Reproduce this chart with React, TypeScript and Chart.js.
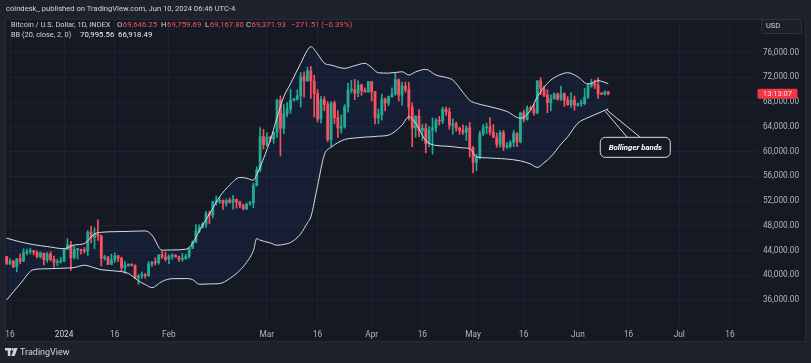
import React, { useEffect, useRef } from "react";
import { Chart, registerables } from "chart.js";

Chart.register(...registerables);

// Day index: 0 = 16 Dec 2023. First candle is 15 Dec 2023.
const FIRST_DAY = -1;

const OPEN = [
  43020, 41940, 42260, 41370, 42660, 42270, 43650, 43870, 43990, 43720, 43010, 43580, 42510, 43440, 42580, 42070, 42140,
  42280, 44180, 44950, 42840, 44150, 44160, 43970, 43930, 46970, 46120, 46650, 46340, 42780, 42840, 41730, 42510, 43150, 42740, 41260, 41620, 41660, 41580, 39570, 39890, 40080, 39940, 41820, 42120, 42030, 43300, 42950,
  42580, 43080, 43190, 42990, 42580, 42660, 43090, 44340, 45300, 47150, 47770, 48290, 49960, 49730, 51830, 51940, 52130, 51660, 52120, 51780, 52270, 51850, 51300, 50750, 51570, 51730, 54480, 57050, 62430,
  61130, 62390, 62030, 63130, 68300, 63780, 66110, 66920, 68300, 68500, 69020, 72120, 71480, 73080, 71400, 69400, 65300, 68390, 67610, 61940, 67840, 65500, 63800, 64090, 67230, 69950, 69990, 69460, 70780, 69890, 69650,
  71330, 69700, 65450, 65970, 68500, 67840, 68900, 69360, 71620, 69140, 70590, 70060, 67190, 63820, 65740, 63420, 63790, 61280, 63510, 63840, 64990, 64940, 66840, 66410, 64280, 64500, 63770, 63460, 63120, 63840,
  60640, 58250, 59120, 62890, 63890, 64030, 63160, 62330, 61190, 63070, 60790, 60820, 61480, 62940, 61580, 66270, 65230, 67050, 66940, 66280, 71450, 70140, 69120, 67930, 68530, 69290, 68510, 69390, 68300, 67580, 68360,
  67490, 67750, 67760, 68800, 70570, 71080, 70760, 69340, 69310, 69646,
];
const HIGH = [
  43090, 42700, 42430, 42750, 43480, 44280, 44240, 44390, 43990, 43940, 43800, 43600, 43680, 43800, 43120, 42600, 42880,
  44190, 45900, 45500, 44750, 44350, 44220, 44480, 47250, 47900, 47700, 48970, 46500, 43250, 43080, 43400, 43580, 43200, 42930, 42200, 41870, 41880, 41680, 40130, 40530, 40280, 42200, 42200, 42800, 43300, 43880, 43740,
  43290, 43480, 43380, 43120, 43500, 43400, 44500, 45600, 48200, 48170, 48570, 50330, 50390, 52000, 52820, 52580, 52190, 52360, 52490, 52950, 52360, 52000, 51530, 51690, 51950, 54900, 57550, 63900, 63600,
  63100, 62430, 63200, 68500, 69000, 67600, 67950, 70100, 68600, 70000, 72800, 72900, 73650, 73780, 72350, 70000, 68900, 68900, 68100, 68100, 68200, 66650, 65950, 67600, 71100, 71500, 71700, 71500, 70900, 70300, 71350,
  71350, 69700, 66900, 69300, 68700, 69000, 70300, 72700, 71750, 71200, 71250, 71200, 67900, 65800, 66800, 64400, 64500, 64100, 65450, 65400, 65700, 67200, 67200, 67050, 65300, 64800, 63950, 64350, 64200, 64700,
  60800, 59600, 63300, 64400, 64600, 65500, 64400, 63000, 63400, 63450, 61500, 61800, 63400, 63100, 66400, 66700, 67400, 67400, 67700, 71500, 71950, 70600, 70000, 69200, 69500, 69500, 70600, 69500, 68900, 69500, 69000,
  67850, 68400, 70200, 71050, 71700, 71600, 71950, 69500, 69850, 69760,
];
const LOW = [
  41700, 41700, 41250, 40550, 41820, 42200, 43300, 43430, 43300, 42800, 42760, 41670, 42110, 42320, 41300, 41550, 41970,
  42190, 44180, 40800, 42640, 42650, 43400, 43600, 43200, 45250, 44300, 45650, 41500, 42450, 41720, 41720, 42060, 42200, 40680, 40280, 41440, 41500, 39450, 38500, 39500, 39520, 39820, 41400, 41640, 41800, 42700, 42300,
  41880, 42600, 42900, 42230, 42260, 42570, 42750, 44340, 45250, 46900, 47620, 47720, 48360, 49260, 51320, 51600, 50640, 51170, 51670, 50680, 50860, 50930, 50550, 50600, 51300, 50900, 54450, 56700, 60400,
  60800, 61600, 61350, 62300, 59300, 62900, 65600, 66200, 68200, 68300, 67200, 68800, 71350, 68600, 65600, 64800, 64600, 66600, 61600, 60800, 64550, 62300, 63000, 63800, 66400, 69500, 68400, 68900, 69100, 69600, 69600,
  68200, 64500, 64500, 65100, 66600, 67450, 68800, 69100, 68200, 67500, 69600, 65100, 60800, 62300, 62400, 61800, 59800, 60800, 59600, 63200, 64300, 64500, 65850, 63600, 62800, 63300, 62800, 62800, 61800, 59100,
  56550, 56900, 58800, 62600, 62900, 62700, 62250, 60700, 60700, 60200, 60500, 60600, 60800, 60800, 61400, 64800, 65100, 66600, 65900, 66100, 69200, 68900, 66300, 66600, 68500, 68300, 68300, 67300, 67500, 67150, 66700,
  67400, 67300, 67600, 68600, 70400, 70200, 68600, 69200, 69150, 69168,
];
const CLOSE = [
  41940, 42260, 41370, 42660, 42270, 43650, 43870, 43990, 43720, 43010, 43580, 42510, 43440, 42580, 42070, 42140, 42280,
  44180, 44950, 42840, 44150, 44160, 43970, 43930, 46970, 46120, 46650, 46340, 42780, 42840, 41730, 42510, 43150, 42740, 41260, 41620, 41660, 41580, 39570, 39890, 40080, 39940, 41820, 42120, 42030, 43300, 42950, 42580,
  43080, 43190, 42990, 42580, 42660, 43090, 44340, 45300, 47150, 47770, 48290, 49960, 49730, 51830, 51940, 52130, 51660, 52120, 51780, 52270, 51850, 51300, 50750, 51570, 51730, 54480, 57050, 62430, 61130,
  62390, 62030, 63130, 68300, 63780, 66110, 66920, 68300, 68500, 69020, 72120, 71480, 73080, 71400, 69400, 65300, 68390, 67610, 61940, 67840, 65500, 63800, 64090, 67230, 69950, 69990, 69460, 70780, 69890, 69650, 71330,
  69700, 65450, 65970, 68500, 67840, 68900, 69360, 71620, 69140, 70590, 70060, 67190, 63820, 65740, 63420, 63790, 61280, 63510, 63840, 64990, 64940, 66840, 66410, 64280, 64500, 63770, 63460, 63120, 63840, 60640,
  58250, 59120, 62890, 63890, 64030, 63160, 62330, 61190, 63070, 60790, 60820, 61480, 62940, 61580, 66270, 65230, 67050, 66940, 66280, 71450, 70140, 69120, 67930, 68530, 69290, 68510, 69390, 68300, 67580, 68360, 67490,
  67750, 67760, 68800, 70570, 71080, 70760, 69340, 69310, 69650, 69372,
];

// Bollinger band (20, 2) values
const BB_DAYS = [
  -1, 3, 7, 11, 16, 19, 22, 25, 27, 31, 35, 38, 40, 42, 45, 48, 52, 54, 56, 59, 62, 65, 68, 70, 72,
  73, 74, 77, 79, 81, 83, 86, 88, 89, 91, 93, 95, 99, 102, 105, 107, 109, 112, 116, 118, 120, 123, 126, 129, 131,
  134, 136, 138, 141, 144, 147, 151, 154, 156, 158, 160, 163, 165, 168, 171, 174, 177,
];
const BB_UPPER = [
  46000, 45400, 44950, 44650, 44300, 44900, 45130, 46700, 46950, 47050, 47100, 47150, 47180, 46500, 44050, 44100, 44210, 45130, 47200, 49900, 52680, 54600, 55820, 55700, 55380,
  56300, 57500, 61860, 65500, 68880, 71000, 74280, 76400, 76970, 75800, 74300, 74000, 73470, 73900, 74280, 73600, 72760, 72700, 72920, 72390, 72900, 73310, 72390, 72000, 71580,
  69600, 68300, 67800, 67400, 67000, 66500, 65400, 66700, 68880, 70400, 71580, 72500, 72760, 72100, 70930, 71470, 70996,
];
const BB_LOWER = [
  36000, 38600, 40920, 41050, 41150, 41250, 41620, 41200, 40900, 40700, 40300, 39100, 38500, 38000, 39000, 39450, 39470, 39300, 38540, 38600, 38650, 39470, 40800, 42100, 44000,
  45940, 45670, 45230, 44860, 45000, 45300, 46700, 48500, 49440, 54500, 59500, 60700, 61950, 62200, 62350, 62400, 62500, 62670, 64290, 65640, 64600, 61800, 61000, 60890, 60800,
  60600, 60500, 59160, 59000, 58900, 58800, 58500, 58000, 57440, 58200, 59160, 61200, 62400, 64600, 65500, 66200, 66918,
];

const TIME_TICK_DAYS = [0, 16, 31, 47, 76, 91, 107, 122, 137, 152, 168, 183, 198, 213];
const TIME_TICK_LABELS = ["16", "2024", "16", "Feb", "Mar", "16", "Apr", "16", "May", "16", "Jun", "16", "Jul", "16"];
const PRICE_TICKS = [36000, 40000, 44000, 48000, 52000, 56000, 60000, 64000, 68000, 72000, 76000];

const X_MIN = -1.48;
const X_MAX = 221.0;
const Y_MIN = 31795;
const Y_MAX = 81451;

const UP = "#22ab94";
const DOWN = "#f7525f";
const GRID = "#1e2230";
const TEXT = "#b2b5be";
const LIGHT = "#d1d4dc";
const FONT = "Roboto, 'Noto Sans', sans-serif";

function roundRect(ctx: CanvasRenderingContext2D, x: number, y: number, w: number, h: number, r: number) {
  ctx.beginPath();
  ctx.moveTo(x + r, y);
  ctx.lineTo(x + w - r, y);
  ctx.arcTo(x + w, y, x + w, y + r, r);
  ctx.lineTo(x + w, y + h - r);
  ctx.arcTo(x + w, y + h, x + w - r, y + h, r);
  ctx.lineTo(x + r, y + h);
  ctx.arcTo(x, y + h, x, y + h - r, r);
  ctx.lineTo(x, y + r);
  ctx.arcTo(x, y, x + r, y, r);
  ctx.closePath();
}

const decor = {
  id: "decor",
  beforeDraw(chart: any) {
    const ctx: CanvasRenderingContext2D = chart.ctx;
    ctx.save();
    ctx.fillStyle = "#1e222d";
    ctx.fillRect(0, 0, chart.width, chart.height);
    ctx.fillStyle = "#151924";
    ctx.fillRect(5, 19, 801, 323);
    ctx.strokeStyle = "#262a36";
    ctx.lineWidth = 1;
    ctx.strokeRect(5.5, 19.5, 800, 322);
    ctx.restore();
  },
  afterDraw(chart: any) {
    const ctx: CanvasRenderingContext2D = chart.ctx;
    const xs = chart.scales.x;
    const ys = chart.scales.y;
    const area = chart.chartArea;
    ctx.save();
    ctx.textBaseline = "middle";
    ctx.textAlign = "left";

    // title line
    ctx.font = `7.6px ${FONT}`;
    ctx.fillStyle = LIGHT;
    ctx.fillText("coindesk_ published on TradingView.com, Jun 10, 2024 06:46 UTC-4", 6, 9.5);

    // OHLC legend
    const put = (t: string, x: number, y: number, c: string) => {
      ctx.fillStyle = c;
      ctx.fillText(t, x, y);
      return x + ctx.measureText(t).width;
    };
    ctx.font = `7.4px ${FONT}`;
    put("Bitcoin / U.S. Dollar, 1D, INDEX", 11, 25.5, LIGHT);
    ctx.font = `7.8px ${FONT}`;
    let px = put("O", 117, 25.5, LIGHT);
    put("69,646.25", px + 0.5, 25.5, DOWN);
    px = put("H", 161, 25.5, LIGHT);
    put("69,759.69", px + 0.5, 25.5, DOWN);
    px = put("L", 205, 25.5, LIGHT);
    put("69,167.80", px + 0.5, 25.5, DOWN);
    px = put("C", 246, 25.5, LIGHT);
    put("69,371.93", px + 0.5, 25.5, DOWN);
    put("−271.51 (−0.39%)", 291, 25.5, DOWN);

    ctx.font = `7.4px ${FONT}`;
    put("BB (20, close, 2, 0)", 11, 35.5, LIGHT);
    ctx.font = `7.8px ${FONT}`;
    put("70,995.56", 80, 35.5, "#eceef2");
    put("66,918.49", 118, 35.5, "#eceef2");

    // USD box
    ctx.fillStyle = "#1b1f2a";
    ctx.strokeStyle = "#2e3240";
    roundRect(ctx, 761.5, 19.5, 40, 14, 2);
    ctx.fill();
    ctx.stroke();
    ctx.font = `7.5px ${FONT}`;
    ctx.fillStyle = LIGHT;
    ctx.fillText("USD", 766, 26.5);

    // last price label
    const py = ys.getPixelForValue(CLOSE[CLOSE.length - 1]);
    ctx.fillStyle = "#f23645";
    roundRect(ctx, area.right + 0.5, py - 5, 40, 10, 1.5);
    ctx.fill();
    ctx.fillStyle = "#ffd9dc";
    ctx.textAlign = "center";
    ctx.font = `7.6px ${FONT}`;
    ctx.fillText("13:13:07", area.right + 20.5, py + 0.5);

    // annotation
    const last = BB_DAYS.length - 1;
    const ax = xs.getPixelForValue(BB_DAYS[last]);
    const ay = ys.getPixelForValue(BB_LOWER[last]);
    ctx.strokeStyle = "#d9dce3";
    ctx.lineWidth = 1;
    ctx.beginPath();
    ctx.moveTo(ax - 3, ay + 2.5);
    ctx.lineTo(ax + 19, ay + 28.5);
    ctx.moveTo(ax - 1, ay + 1.5);
    ctx.lineTo(ax + 32, ay + 28.5);
    ctx.stroke();
    ctx.fillStyle = "#151924";
    roundRect(ctx, ax - 8, ay + 28.5, 70, 20, 5);
    ctx.fill();
    ctx.stroke();
    ctx.fillStyle = "#ffffff";
    ctx.font = `italic bold 7.8px ${FONT}`;
    ctx.fillText("Bollinger bands", ax + 27, ay + 38.8);

    // footer logo
    ctx.fillStyle = LIGHT;
    ctx.fillRect(5, 348, 6, 2.5);
    ctx.fillRect(7.8, 348, 2.6, 8);
    ctx.beginPath();
    ctx.arc(12.6, 349.4, 1.3, 0, Math.PI * 2);
    ctx.fill();
    ctx.beginPath();
    ctx.moveTo(14.4, 348);
    ctx.lineTo(17.6, 348);
    ctx.lineTo(14.6, 356);
    ctx.lineTo(11.4, 356);
    ctx.closePath();
    ctx.fill();
    ctx.textAlign = "left";
    ctx.font = `9px ${FONT}`;
    ctx.fillText("TradingView", 20, 352.5);
    ctx.restore();
  },
};

export default function App() {
  const ref = useRef<HTMLCanvasElement>(null);
  useEffect(() => {
    document.body.style.margin = "0";
    document.body.style.background = "#1e222d";
    const canvas = ref.current!;
    Chart.defaults.font.family = FONT;
    const days = OPEN.map((_, i) => FIRST_DAY + i);
    const colors = OPEN.map((o, i) => (CLOSE[i] >= o ? UP : DOWN));
    const chart = new Chart(canvas, {
      type: "bar",
      data: {
        datasets: [
          {
            type: "line",
            label: "BB upper",
            data: BB_DAYS.map((d, i) => ({ x: d, y: BB_UPPER[i] })),
            borderColor: "#d9dce3",
            borderWidth: 1,
            pointRadius: 0,
            cubicInterpolationMode: "monotone",
            fill: false,
            order: 0,
          } as any,
          {
            type: "line",
            label: "BB lower",
            data: BB_DAYS.map((d, i) => ({ x: d, y: BB_LOWER[i] })),
            borderColor: "#d9dce3",
            borderWidth: 1,
            pointRadius: 0,
            cubicInterpolationMode: "monotone",
            fill: "-1",
            backgroundColor: "rgba(41,98,255,0.07)",
            order: 0,
          } as any,
          {
            type: "bar",
            label: "wicks",
            data: days.map((d, i) => ({ x: d, y: [LOW[i], HIGH[i]] })),
            backgroundColor: colors,
            barThickness: 1,
            grouped: false,
            order: 2,
          } as any,
          {
            type: "bar",
            label: "bodies",
            data: days.map((d, i) => ({ x: d, y: [OPEN[i], CLOSE[i]] })),
            backgroundColor: colors,
            barThickness: 2.2,
            minBarLength: 1,
            grouped: false,
            order: 1,
          } as any,
        ],
      },
      options: {
        responsive: false,
        animation: false,
        devicePixelRatio: 1,
        layout: { padding: { left: 5, right: 12, top: 19, bottom: 21 } },
        plugins: {
          legend: { display: false },
          tooltip: { enabled: false },
          filler: { drawTime: "beforeDatasetsDraw" },
        } as any,
        scales: {
          x: {
            type: "linear",
            min: X_MIN,
            max: X_MAX,
            offset: false,
            grid: { color: GRID, drawTicks: false, offset: false },
            border: { display: false },
            afterBuildTicks: (s: any) => {
              s.ticks = TIME_TICK_DAYS.map((v) => ({ value: v }));
            },
            afterFit: (s: any) => {
              s.height = 16;
            },
            ticks: {
              autoSkip: false,
              maxRotation: 0,
              minRotation: 0,
              padding: 3.5,
              color: (c: any) => (c.tick && c.tick.value === 16 ? LIGHT : TEXT),
              font: { size: 8.3, family: FONT },
              callback: (v: any) => {
                const i = TIME_TICK_DAYS.indexOf(Number(v));
                return i >= 0 ? TIME_TICK_LABELS[i] : "";
              },
            },
          },
          y: {
            type: "linear",
            position: "right",
            min: Y_MIN,
            max: Y_MAX,
            grid: { color: GRID, drawTicks: false },
            border: { display: false },
            afterBuildTicks: (s: any) => {
              s.ticks = PRICE_TICKS.map((v) => ({ value: v }));
            },
            afterFit: (s: any) => {
              s.width = 42;
            },
            ticks: {
              crossAlign: "far",
              color: TEXT,
              font: { size: 8.2, family: FONT },
              callback: (v: any) =>
                Number(v).toLocaleString("en-US", { minimumFractionDigits: 2, maximumFractionDigits: 2 }),
            },
          },
        } as any,
      },
      plugins: [decor],
    });
    return () => chart.destroy();
  }, []);
  return <canvas ref={ref} width={811} height={363} style={{ display: "block", width: 811, height: 363 }} />;
}
